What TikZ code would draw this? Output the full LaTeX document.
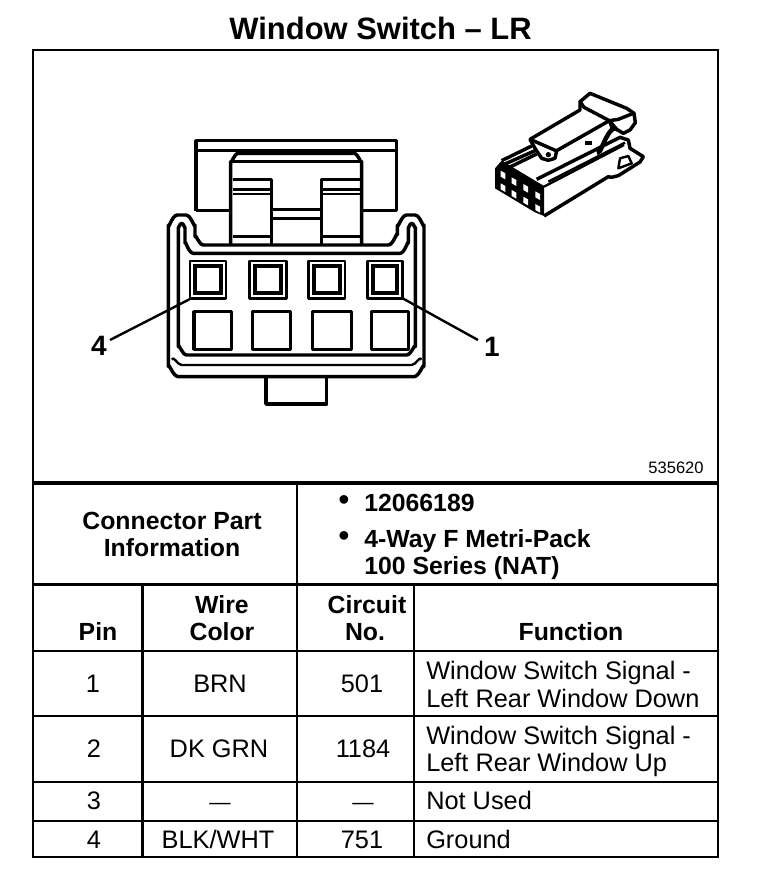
\documentclass[tikz,border=0pt]{standalone}
\usepackage{fontspec}
\setmainfont{Liberation Sans}
\tikzset{
  grid/.style={line width=2pt,black},
  med/.style={line width=1.8pt,black,line join=round},
  thk/.style={line width=2.6pt,black,line join=round},
  bt/.style={font=\fontsize{18.6}{20.2}\bfseries\selectfont,align=center,inner sep=0pt},
  bl/.style={bt,anchor=base},
  bw/.style={bt,anchor=base west,align=left},
  rt/.style={font=\fontsize{19}{21}\selectfont,anchor=base,inner sep=0pt},
  dash line/.style={font=\fontsize{16}{16}\selectfont,anchor=base,inner sep=0pt},
  lt/.style={font=\fontsize{19}{20.5}\selectfont,align=left,anchor=west,inner sep=0pt},
  ls/.style={font=\fontsize{19}{20.5}\selectfont,anchor=base west,inner sep=0pt},
}
\begin{document}
\begin{tikzpicture}[x=.75pt,y=-.75pt]
\useasboundingbox (0,0) rectangle (768,884);
\fill[white] (0,0) rectangle (768,884);
\node[inner sep=0pt,font=\fontsize{23.2}{26}\bfseries\selectfont] (title) at (380.5,28) {Window Switch -- LR};
% frame
\draw[grid] (33,50) rectangle (718,857);
\draw[grid,line width=2.4pt] (33,483) -- (718,483);
\draw[grid] (33,584.5) -- (718,584.5);
\draw[grid] (33,651) -- (718,651);
\draw[grid] (33,716) -- (718,716);
\draw[grid] (33,782) -- (718,782);
\draw[grid] (33,821) -- (718,821);
\draw[grid] (297,483) -- (297,857);
\draw[grid] (142.5,584.5) -- (142.5,857);
\draw[grid] (414,584.5) -- (414,857);
% main connector
\begin{scope}[shift={(140,120)},x=.25pt,y=-.25pt]
\draw[thk] (168,272) -- (168,62) -- (770,62) -- (770,272) -- (665,272);
\draw[thk] (168,272) -- (272,272);
\draw[med] (168,92) -- (770,92);
\draw[thk] (272,375) -- (272,125) to[out=-90,in=180] (295,100) -- (642,100) to[out=0,in=-90] (665,125) -- (665,375);
\draw[med] (272,125) -- (665,125);
\draw[thk] (278,178) -- (395,178) -- (395,375);
\draw[thk] (665,178) -- (545,178) -- (545,375);
\draw[med] (278,208) -- (390,208) (278,222) -- (395,222);
\draw[med] (550,208) -- (665,208) (550,222) -- (665,222);
\draw[med] (278,350) -- (395,350) (550,350) -- (665,350);
\draw[thk] (400,268) -- (545,268);
\draw[med] (400,295) -- (545,295);
\draw[thk,fill=none] (85,740) -- (85,315) to[out=-90,in=180] (112,285) -- (138,285) to[out=0,in=-90] (165,315) -- (165,350) to[out=90,in=180] (190,375) -- (745,375) to[out=0,in=90] (772,345) -- (772,315) to[out=-90,in=180] (800,285) -- (825,285) to[out=0,in=-90] (852,315) -- (852,740) to[out=90,in=0] (822,770) -- (115,770) to[out=180,in=90] (85,740) -- cycle;
\draw[thk] (115,680) -- (115,322) to[out=-90,in=180] (125,310) to[out=0,in=-90] (135,322) -- (135,370) to[out=90,in=180] (160,400) -- (780,400) to[out=0,in=90] (805,370) -- (805,322) to[out=-90,in=180] (815,310) to[out=0,in=-90] (826,322) -- (826,680) to[out=90,in=0] (800,705) -- (140,705) to[out=180,in=90] (115,680) -- cycle;
\draw[med] (95,718) to[out=60,in=180] (125,735) -- (815,735) to[out=0,in=120] (845,718);
\draw[thk] (378,770) -- (378,852) -- (560,852) -- (560,770);
\foreach \x/\w in {150/108,328/112,505/110,682/106}{
  \draw[med] (\x,423) rectangle ++(\w,112);
  \draw[line width=2.9pt] (\x+16,439) rectangle ++(\w-32,79);
}
\foreach \x/\w in {162/113,338/114,518/117,695/110}{
  \draw[thk] (\x,575) rectangle ++(\w,113);
}
\coordinate (p4) at (150,537);
\coordinate (p1) at (788,535);
\end{scope}
\coordinate (l4) at (110,340);
\coordinate (l1) at (478,340);
\node[inner sep=0pt,font=\fontsize{21}{24}\bfseries\selectfont] (n4) at (99,346) {4};
\node[inner sep=0pt,font=\fontsize{21}{24}\bfseries\selectfont] (n1) at (492,347) {1};
\draw[med] (p4) -- (l4);
\draw[med] (p1) -- (l1);
% small connector
\begin{scope}[shift={(480,80)},x=.25pt,y=-.25pt]
% front face
\fill[black] (45,265) -- (65,242) -- (192,318) -- (192,408) -- (165,397) -- (45,325) -- cycle;
\foreach \x/\t in {62/272,95/292,130/312,166/334}{
  \fill[white] (\x,\t) -- ++(14,8) -- ++(0,18) -- ++(-14,-8) -- cycle;
  \fill[white] (\x,\t+38) -- ++(14,8) -- ++(0,18) -- ++(-14,-8) -- cycle;
}
% body
\draw[thk] (65,242) -- (155,198);
\draw[thk] (75,252) -- (165,212);
\draw[thk] (88,262) -- (170,222);
\draw[thk] (170,298) -- (420,172) -- (445,180) -- (450,205) -- (490,230) -- (480,246) -- (415,287) -- (395,292) -- (385,290) -- (192,408);
\draw[med] (192,320) -- (432,195);
\draw[med] (205,305) -- (435,188);
\draw[med] (415,265) -- (420,235) -- (445,228) -- (455,250) -- cycle;
% latch
\draw[thk,fill=white] (150,178) -- (300,90) -- (300,65) -- (330,40) -- (440,85) -- (462,100) -- (466,128) -- (450,150) -- (430,160) -- (410,148) -- (388,122) -- (230,212) -- (225,235) -- (205,241) -- (185,235) -- (165,205) -- cycle;
\draw[thk] (150,178) -- (228,212);
\draw[thk] (300,65) -- (312,82) -- (388,122) -- (415,118) -- (460,100);
\draw[thk] (388,122) -- (395,140) -- (412,150);
\draw[line width=3.4pt] (355,208) to[out=-85,in=200] (405,143);
\fill[black] (315,182) rectangle ++(20,12);
\fill[black] (205,224) circle (8);
\end{scope}
\node[inner sep=0pt,font=\fontsize{12.4}{14}\selectfont] (code) at (676,468) {535620};
% table text
\node[bt] (cpi) at (172,534.5) {Connector Part\\Information};
\node[bl,font=\fontsize{24}{24}\selectfont] (b1) at (344,510) {•};
\node[bw] (pn) at (364,511) {12066189};
\node[bl,font=\fontsize{24}{24}\selectfont] (b2) at (344,546) {•};
\node[bt,anchor=west,align=left] (ty) at (364,555) {4-Way F Metri-Pack\\100 Series (NAT)};
\node[bl] (hp) at (98,640) {Pin};
\node[bt] (hw) at (222,618.5) {Wire\\Color};
\node[bt] (hc) at (367,618.5) {Circuit\\No.\hspace*{3pt}};
\node[bl] (hf) at (571,640) {Function};
\node[rt] (p1t) at (93,692) {1};
\node[rt] (c1) at (220,692) {BRN};
\node[rt] (n501) at (362,692) {501};
\node[lt] (f1) at (426,684.5) {Window Switch Signal -\\Left Rear Window Down};
\node[rt] (p2t) at (94,757) {2};
\node[rt] (c2) at (219,757) {DK GRN};
\node[rt] (n1184) at (363,757) {1184};
\node[lt] (f2) at (426,751.5) {Window Switch Signal -\\Left Rear Window Up};
\node[rt] (p3t) at (94,809) {3};
\node[dash line] (c3) at (220,809) {—};
\node[dash line] (n3) at (363,809) {—};
\node[ls] (f3) at (426,809) {Not Used};
\node[rt] (p4t) at (94,848) {4};
\node[rt] (c4) at (218,848) {BLK/WHT};
\node[rt] (n751) at (362,848) {751};
\node[ls] (f4) at (426,848) {Ground};
\end{tikzpicture}
\end{document}
